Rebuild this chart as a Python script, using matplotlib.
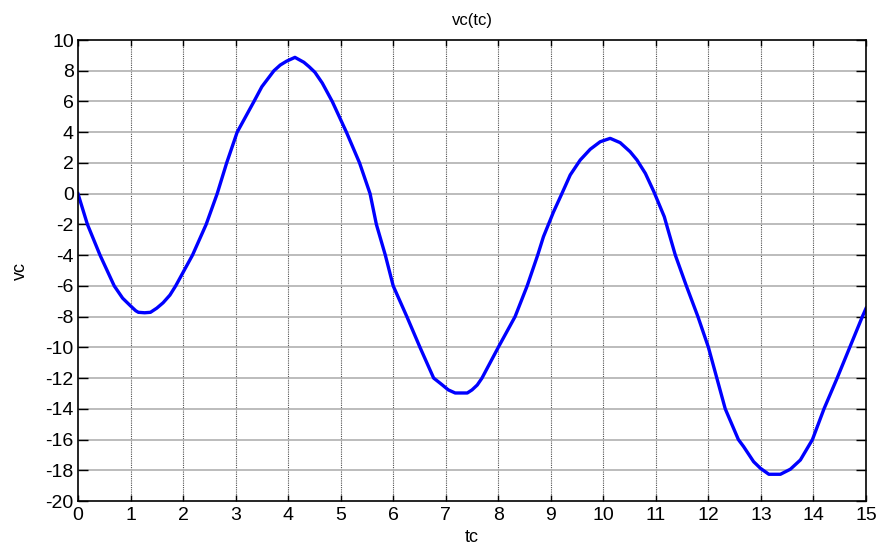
import matplotlib
matplotlib.use("Agg")
from matplotlib import pyplot as plt

# values
tc = [0.00, 0.18, 0.42, 0.69, 0.85, 1.00, 1.10, 1.15, 1.27, 1.38,
      1.50, 1.62, 1.75, 1.86, 2.18, 2.44, 2.65, 2.83, 3.03, 3.35,
      3.50, 3.73, 3.85, 3.97, 4.13, 4.30, 4.40, 4.51, 4.65, 4.84,
      5.11, 5.36, 5.56, 5.68, 5.85, 6.00, 6.26, 6.51, 6.77, 6.90,
      7.05, 7.18, 7.41, 7.50, 7.60, 7.69, 8.00, 8.32, 8.55, 8.75,
      8.86, 9.05, 9.21, 9.37, 9.56, 9.75, 9.94, 10.13, 10.32, 10.51,
      10.64, 10.80, 10.96, 11.16, 11.25, 11.37, 11.58, 11.80, 12.00, 12.16,
      12.32, 12.57, 12.67, 12.86, 12.99, 13.15, 13.37, 13.56, 13.75, 13.98,
      14.20, 14.45, 14.69, 14.93, 15.00]
vc = [0.0, -2.0, -4.0, -6.0, -6.8, -7.3, -7.62, -7.72, -7.75, -7.72,
      -7.45, -7.1, -6.6, -6.0, -4.0, -2.0, 0.0, 2.0, 4.0, 6.0,
      6.96, 8.0, 8.37, 8.62, 8.87, 8.55, 8.26, 7.9, 7.2, 6.0,
      4.0, 2.0, 0.0, -2.0, -4.0, -6.0, -8.0, -10.0, -12.0, -12.35,
      -12.77, -12.97, -12.97, -12.77, -12.45, -12.0, -10.0, -8.0, -6.0, -4.0,
      -2.8, -1.2, 0.0, 1.22, 2.19, 2.89, 3.38, 3.6, 3.32, 2.73,
      2.19, 1.32, 0.14, -1.5, -2.58, -4.0, -6.0, -8.0, -10.0, -12.0,
      -14.0, -16.0, -16.46, -17.44, -17.87, -18.26, -18.26, -17.93, -17.33, -16.0,
      -14.0, -12.0, -10.0, -8.0, -7.46]

xticks = list(range(0, 16))
yticks = list(range(-20, 11, 2))

plt.rcParams['font.family'] = ['Liberation Sans', 'DejaVu Sans']
plt.rcParams['axes.unicode_minus'] = False

fig = plt.figure(figsize=(8.77, 5.45), dpi=100)
ax = fig.add_axes([0.0889, 0.0807, 0.8986, 0.8459])

ax.plot(tc, vc, color='#0000ff', lw=2.4, solid_joinstyle='round')

ax.set_xlim(0, 15)
ax.set_ylim(-20, 10)
ax.set_xticks(xticks)
ax.set_yticks(yticks)

for t in xticks[1:-1]:
    ax.axvline(t, color='#505050', lw=0.8, ls=(0, (1, 1)), zorder=0)
for v in yticks[1:-1]:
    ax.axhline(v, color='#b0b0b0', lw=1.2, zorder=0)

ax.tick_params(axis='both', direction='in', top=True, right=True,
               labelsize=14, color='black', width=1)
ax.tick_params(axis='y', length=7, pad=3)
ax.tick_params(axis='x', length=4, pad=4)
for s in ax.spines.values():
    s.set_linewidth(1.2)

ax.set_title('vc(tc)', fontsize=12, pad=11)
ax.set_xlabel('tc', fontsize=13, labelpad=4)
ax.set_ylabel('vc', fontsize=13, labelpad=12)

fig.savefig('out.png', dpi=100)
